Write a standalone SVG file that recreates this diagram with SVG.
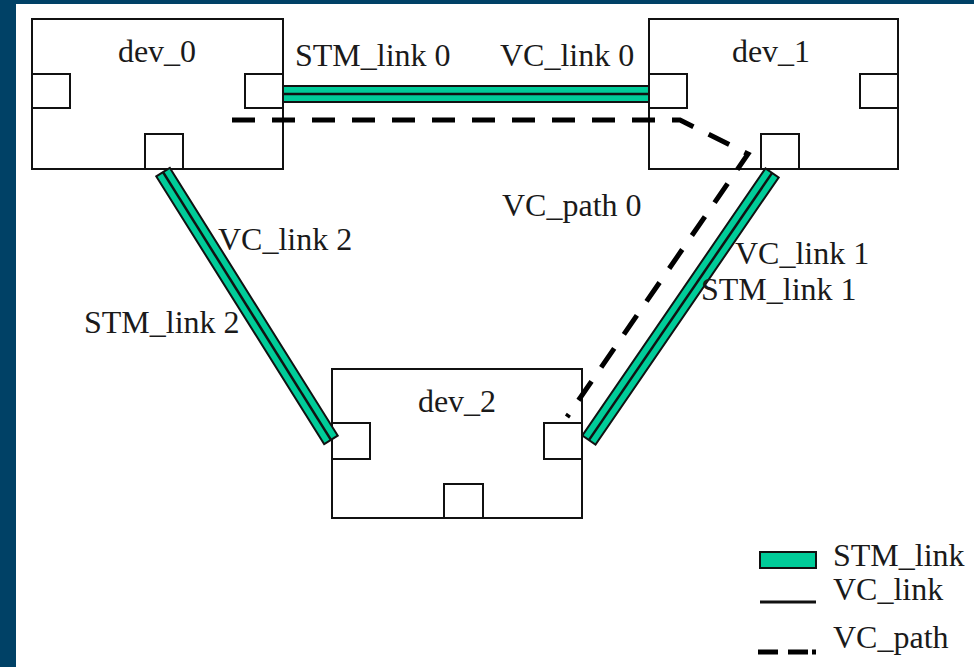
<svg xmlns="http://www.w3.org/2000/svg" width="974" height="667" viewBox="0 0 974 667">
  <style>
    .box { fill: #ffffff; stroke: #111111; stroke-width: 2; }
    .port { fill: #ffffff; stroke: #111111; stroke-width: 2; }
    .lbl { font-family: "Liberation Serif", "Times New Roman", serif; font-size: 32px; fill: #1a1a1a; }
    .stm { fill: #00CC99; stroke: #111111; stroke-width: 2; }
    .vc { stroke: #111111; stroke-width: 2.5; fill: none; }
    .path { stroke: #000000; stroke-width: 5; fill: none; stroke-dasharray: 23 17; }
  </style>
  <rect x="0" y="0" width="974" height="667" fill="#004166"/>
  <rect x="16" y="4" width="958" height="663" fill="#ffffff"/>

  <g id="dev_0">
    <rect class="box" x="32" y="19" width="251" height="150"/>
    <rect class="port" x="32" y="74" width="38" height="34"/>
    <rect class="port" x="245" y="74" width="38" height="34"/>
    <rect class="port" x="145" y="134" width="38" height="35"/>
    <text class="lbl" x="157" y="62" text-anchor="middle">dev_0</text>
  </g>

  <g id="dev_1">
    <rect class="box" x="649" y="19" width="249" height="150"/>
    <rect class="port" x="649" y="74" width="38" height="34"/>
    <rect class="port" x="860" y="74" width="38" height="34"/>
    <rect class="port" x="761" y="134" width="38" height="35"/>
    <text class="lbl" x="771" y="62" text-anchor="middle">dev_1</text>
  </g>

  <g id="dev_2">
    <rect class="box" x="332" y="369" width="250" height="149"/>
    <rect class="port" x="332" y="423" width="38" height="36"/>
    <rect class="port" x="544" y="423" width="38" height="36"/>
    <rect class="port" x="444" y="484" width="39" height="34"/>
    <text class="lbl" x="457" y="412" text-anchor="middle">dev_2</text>
  </g>

  <g id="connectors">
    <g id="link0">
      <rect class="stm" x="283" y="86" width="366" height="16"/>
      <line class="vc" x1="283" y1="94" x2="649" y2="94"/>
    </g>
    <g id="link2" transform="translate(247,306) rotate(57.9)">
      <rect class="stm" x="-158" y="-8" width="316" height="16"/>
      <line class="vc" x1="-158" y1="0" x2="158" y2="0"/>
    </g>
    <g id="link1" transform="translate(680.5,306.5) rotate(-55.57)">
      <rect class="stm" x="-162" y="-8" width="324" height="16"/>
      <line class="vc" x1="-162" y1="0" x2="162" y2="0"/>
    </g>
    <path id="vc_path0" class="path" d="M232,120 L680,120 L748,154 L567,417"/>
  </g>

  <g id="labels">
    <text class="lbl" x="295" y="66">STM_link 0</text>
    <text class="lbl" x="500" y="66">VC_link 0</text>
    <text class="lbl" x="502" y="216">VC_path 0</text>
    <text class="lbl" x="218" y="250">VC_link 2</text>
    <text class="lbl" x="84" y="333">STM_link 2</text>
    <text class="lbl" x="735" y="264">VC_link 1</text>
    <text class="lbl" x="701" y="300">STM_link 1</text>
  </g>

  <g id="legend">
    <rect class="stm" x="760" y="552" width="56" height="16"/>
    <text class="lbl" x="833" y="566">STM_link</text>
    <line x1="760" y1="602" x2="816" y2="602" stroke="#111111" stroke-width="3"/>
    <text class="lbl" x="833" y="600">VC_link</text>
    <line x1="758" y1="652" x2="816" y2="652" stroke="#000000" stroke-width="5" stroke-dasharray="20 10 20 4 4"/>
    <text class="lbl" x="833" y="648">VC_path</text>
  </g>
</svg>
